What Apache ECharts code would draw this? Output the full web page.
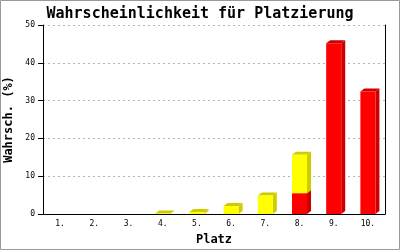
<!DOCTYPE html>
<html>
<head>
<meta charset="utf-8">
<script src="https://cdn.jsdelivr.net/npm/echarts@6/dist/echarts.min.js"></script>
<style>
html,body{margin:0;padding:0;background:#fff;}
#c{width:400px;height:250px;}
</style>
</head>
<body>
<div id="c"></div>
<script>
var categories = ['1.', '2.', '3.', '4.', '5.', '6.', '7.', '8.', '9.', '10.'];
var redValues = [0, 0, 0, 0, 0, 0, 0, 5.5, 45.2, 32.4];
var yellowValues = [0, 0, 0, 0.1, 0.5, 2.1, 4.9, 10.2, 0, 0];
var yTicks = [0, 10, 20, 30, 40, 50];

var FONT = '"DejaVu Sans Mono", monospace';

function stackData(vals, bases) {
  var out = [];
  for (var i = 0; i < vals.length; i++) {
    var b = bases ? bases[i] : 0;
    out.push([i, b, b + vals[i], vals[i]]);
  }
  return out;
}

function make3D(front, side, top) {
  return function (params, api) {
    var v = api.value(3);
    if (!v) return null;
    var i = api.value(0);
    var p0 = api.coord([i, api.value(1)]);
    var p1 = api.coord([i, api.value(2)]);
    var bw = api.size([1, 0])[0] * 0.44;
    var dx = 4, dy = 3;
    var xl = p0[0] - bw / 2, xr = p0[0] + bw / 2;
    var yb = p0[1], yt = p1[1];
    return {
      type: 'group',
      children: [
        { type: 'polygon', shape: { points: [[xr, yt], [xr + dx, yt - dy], [xr + dx, yb - dy], [xr, yb]] }, style: { fill: side } },
        { type: 'polygon', shape: { points: [[xl, yt], [xl + dx, yt - dy], [xr + dx, yt - dy], [xr, yt]] }, style: { fill: top } },
        { type: 'rect', shape: { x: xl, y: yt, width: bw, height: yb - yt }, style: { fill: front } }
      ]
    };
  };
}

var chart = echarts.init(document.getElementById('c'), null, { renderer: 'canvas' });
chart.setOption({
  animation: false,
  backgroundColor: '#fff',
  title: {
    text: 'Wahrscheinlichkeit für Platzierung',
    left: 'center',
    top: 2,
    textStyle: { fontFamily: FONT, fontSize: 15, fontWeight: 'bold', color: '#000' }
  },
  graphic: [{
    type: 'rect', shape: { x: 0.5, y: 0.5, width: 399, height: 249 },
    style: { fill: 'none', stroke: '#999', lineWidth: 1 }, silent: true
  }],
  grid: { left: 43, right: 15, top: 25, bottom: 36, containLabel: false, outerBoundsMode: 'none' },
  xAxis: {
    type: 'category',
    data: categories,
    name: 'Platz',
    nameLocation: 'middle',
    nameGap: 20,
    nameTextStyle: { fontFamily: FONT, fontSize: 12, fontWeight: 'bold', color: '#000' },
    axisLine: { lineStyle: { color: '#000', width: 1 } },
    axisTick: { show: false },
    axisLabel: { fontFamily: FONT, fontSize: 8, color: '#000', margin: 6 },
    splitLine: { show: false }
  },
  yAxis: [{
    type: 'value',
    min: yTicks[0],
    max: yTicks[yTicks.length - 1],
    interval: 10,
    name: 'Wahrsch. (%)',
    nameLocation: 'middle',
    nameGap: 28,
    nameTextStyle: { fontFamily: FONT, fontSize: 12, fontWeight: 'bold', color: '#000' },
    axisLine: { show: true, lineStyle: { color: '#000', width: 1 } },
    axisTick: { show: true, length: 5, lineStyle: { color: '#000' } },
    axisLabel: { fontFamily: FONT, fontSize: 8, color: '#000', margin: 8 },
    splitLine: { show: true, lineStyle: { color: '#b4b4b4', type: [2, 3], width: 1 } }
  }, {
    type: 'value',
    position: 'right',
    min: 0, max: 50, interval: 10,
    axisLine: { show: true, lineStyle: { color: '#000', width: 1 } },
    axisTick: { show: false },
    axisLabel: { show: false },
    splitLine: { show: false }
  }],
  series: [{
    type: 'custom',
    renderItem: make3D('#ff0000', '#cc0000', '#cc0000'),
    data: stackData(redValues, null),
    encode: { x: 0, y: [1, 2] },
    z: 2
  }, {
    type: 'custom',
    renderItem: make3D('#ffff00', '#cccc00', '#cccc00'),
    data: stackData(yellowValues, redValues),
    encode: { x: 0, y: [1, 2] },
    z: 3
  }]
});
</script>
</body>
</html>
